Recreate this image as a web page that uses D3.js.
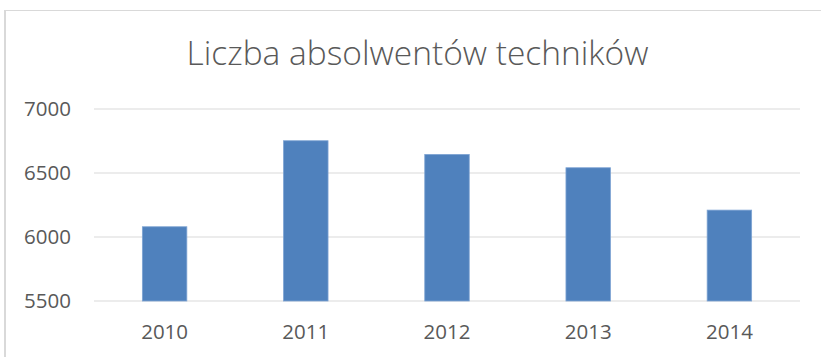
<!DOCTYPE html>
<html>
<head>
<meta charset="utf-8">
<script src="https://cdn.jsdelivr.net/npm/d3@7"></script>
<style>
  html, body { margin: 0; padding: 0; background: #ffffff; }
  svg { display: block; }
</style>
</head>
<body>
<svg id="chart" width="821" height="357"></svg>
<script>
// Graduates of technical schools per year
const years = ["2010", "2011", "2012", "2013", "2014"];
const graduates = [6080, 6752, 6645, 6541, 6210];
const yTicks = [5500, 6000, 6500, 7000];
const titleText = "Liczba absolwentów techników";

const svg = d3.select("#chart");
const W = 821, H = 357;
const plot = { left: 94, right: 800, top: 109, bottom: 301 };

// chart area frame (top and left edges visible)
svg.append("line")
  .attr("x1", 4).attr("x2", W).attr("y1", 10.5).attr("y2", 10.5)
  .attr("stroke", "#d9d9d9").attr("stroke-width", 1);
svg.append("line")
  .attr("x1", 5).attr("x2", 5).attr("y1", 10).attr("y2", H)
  .attr("stroke", "#d9d9d9").attr("stroke-width", 2);

const x = d3.scaleBand().domain(years).range([plot.left, plot.right]).padding(0);
const y = d3.scaleLinear().domain([5500, 7000]).range([plot.bottom, plot.top]);

// title
svg.append("text")
  .attr("x", 417.5).attr("y", 65)
  .attr("text-anchor", "middle")
  .attr("font-family", "'Open Sans', sans-serif")
  .attr("font-weight", 300)
  .attr("font-size", 33.5)
  .attr("fill", "#595959")
  .text(titleText);

// horizontal gridlines
svg.append("g")
  .selectAll("line")
  .data(yTicks)
  .join("line")
  .attr("x1", plot.left).attr("x2", plot.right)
  .attr("y1", d => y(d)).attr("y2", d => y(d))
  .attr("stroke", "#d9d9d9").attr("stroke-width", 1.2);

// y axis labels
const yAxis = d3.axisLeft(y).tickValues(yTicks).tickSize(0).tickPadding(0).tickFormat(d3.format("d"));
const yg = svg.append("g").attr("transform", `translate(71,0)`).call(yAxis);
yg.select(".domain").remove();
yg.selectAll("text")
  .attr("font-family", "'Open Sans', sans-serif")
  .attr("font-size", 20.5)
  .attr("fill", "#595959");

// bars
const barW = x.bandwidth() * 0.315;
svg.append("g")
  .selectAll("rect")
  .data(years.map((yr, i) => ({ yr, v: graduates[i] })))
  .join("rect")
  .attr("x", d => x(d.yr) + (x.bandwidth() - barW) / 2)
  .attr("y", d => y(d.v))
  .attr("width", barW)
  .attr("height", d => y(5500) - y(d.v))
  .attr("fill", "#4f81bd")
  .attr("stroke", "#7da3d3")
  .attr("stroke-width", 0.8);

// x axis labels
const xAxis = d3.axisBottom(x).tickSize(0).tickPadding(0);
const xg = svg.append("g").attr("transform", `translate(0,${plot.bottom + 23})`).call(xAxis);
xg.select(".domain").remove();
xg.selectAll("text")
  .attr("font-family", "'Open Sans', sans-serif")
  .attr("font-size", 20.5)
  .attr("fill", "#595959");
</script>
</body>
</html>
